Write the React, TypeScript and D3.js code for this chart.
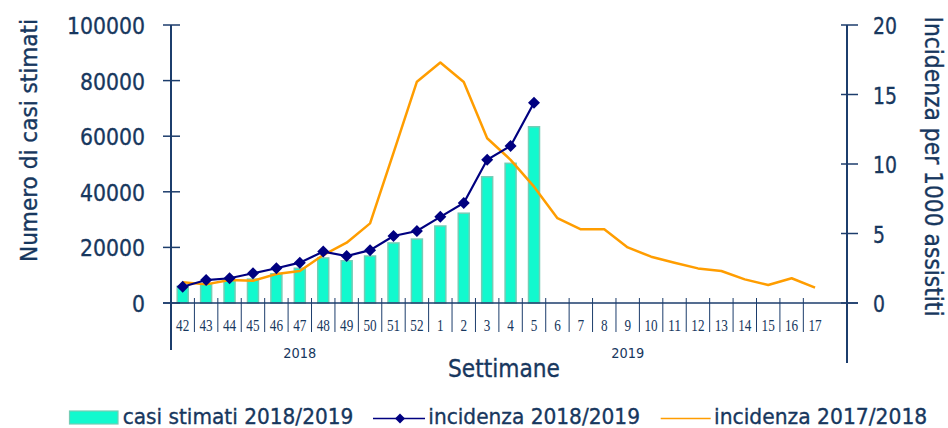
import React from "react";
import * as d3 from "d3";

const weeks = ["42","43","44","45","46","47","48","49","50","51","52","1","2","3","4","5","6","7","8","9","10","11","12","13","14","15","16","17"];
const casiStimati = [6000, 7000, 8300, 8600, 10500, 12500, 16200, 15200, 16900, 21600, 23000, 27700, 32300, 45400, 50250, 63400];
const incidenza1819 = [1.17, 1.65, 1.78, 2.14, 2.5, 2.9, 3.7, 3.38, 3.8, 4.82, 5.18, 6.2, 7.2, 10.3, 11.3, 14.4];
const incidenza1718 = [1.49, 1.34, 1.65, 1.6, 2.09, 2.3, 3.45, 4.34, 5.73, 10.8, 15.92, 17.3, 15.9, 11.85, 10.3, 8.37, 6.1, 5.3, 5.3, 4.0, 3.33, 2.9, 2.49, 2.3, 1.7, 1.29, 1.78, 1.1];
const leftTicks = [0, 20000, 40000, 60000, 80000, 100000];
const rightTicks = [0, 5, 10, 15, 20];
const years = [{ label: "2018", from: "42", to: "52" }, { label: "2019", from: "1", to: "17" }];

const NAVY = "#17375e";
const AXIS = "#1c3d6c";
const FONT = "DejaVu Sans, Verdana, sans-serif";
const TS = { stroke: NAVY, strokeWidth: 0.35 };

export default function App() {
  const x0 = 171;
  const step = 23.42;
  const x = d3.scaleBand<string>().domain(weeks).range([x0, x0 + step * weeks.length]).paddingInner(0).paddingOuter(0);
  const yL = d3.scaleLinear().domain([0, 100000]).range([303, 25]);
  const yR = d3.scaleLinear().domain([0, 20]).range([303, 25]);
  const cx = (i: number) => (x(weeks[i]) as number) + x.bandwidth() / 2;
  const line = d3.line<number>().x((_, i) => cx(i)).y((d) => yR(d));
  const barW = 11;
  const diamond = (px: number, py: number, r: number) => `M${px},${py - r}L${px + r},${py}L${px},${py + r}L${px - r},${py}Z`;

  return (
    <svg width={948} height={428} style={{ position: "absolute", left: 0, top: 0, background: "#fff" }}>
      {casiStimati.map((v, i) => (
        <rect key={"b" + i} x={cx(i) - barW / 2} y={yL(v)} width={barW} height={yL(0) - yL(v)}
          fill="#12f9ce" stroke="#74cdb5" strokeWidth={1.5} />
      ))}
      <path d={line(incidenza1718) || ""} fill="none" stroke="#ff9d00" strokeWidth={2.5} strokeLinejoin="round" />
      <path d={line(incidenza1819) || ""} fill="none" stroke="#000080" strokeWidth={2.2} />
      {incidenza1819.map((v, i) => (
        <path key={"d" + i} d={diamond(cx(i), yR(v), 6)} fill="#000080" />
      ))}

      <line x1={x0} x2={x0} y1={25} y2={350} stroke={AXIS} strokeWidth={2} />
      {leftTicks.map((t) => (
        <g key={"lt" + t}>
          <line x1={163} x2={180} y1={yL(t)} y2={yL(t)} stroke={AXIS} strokeWidth={1.5} />
          <text x={145} y={yL(t) + 9} textAnchor="end" fontFamily={FONT} fontSize={23} fill={NAVY} {...TS}
            textLength={13 * String(t).length} lengthAdjust="spacingAndGlyphs">{t}</text>
        </g>
      ))}
      <line x1={847} x2={847} y1={25} y2={363} stroke={AXIS} strokeWidth={2} />
      {rightTicks.map((t) => (
        <g key={"rt" + t}>
          <line x1={841} x2={858} y1={yR(t)} y2={yR(t)} stroke={AXIS} strokeWidth={1.5} />
          <text x={873} y={yR(t) + 9} textAnchor="start" fontFamily={FONT} fontSize={23} fill={NAVY} {...TS}
            textLength={12 * String(t).length} lengthAdjust="spacingAndGlyphs">{t}</text>
        </g>
      ))}
      <line x1={163} x2={858} y1={303} y2={303} stroke={AXIS} strokeWidth={1.5} />
      {weeks.map((w, i) =>
        i > 0 ? (
          <line key={"s" + w} x1={x(w) as number} x2={x(w) as number} y1={298} y2={332} stroke={AXIS} strokeWidth={1} />
        ) : null
      )}
      {weeks.map((w, i) => (
        <text key={"wl" + w} x={cx(i)} y={330.5} textAnchor="middle" fontFamily="Liberation Serif, serif" fontSize={16.5}
          fill={NAVY} textLength={6.6 * w.length} lengthAdjust="spacingAndGlyphs">{w}</text>
      ))}
      {years.map((yr) => {
        const a = x(yr.from) as number;
        const b = (x(yr.to) as number) + x.bandwidth();
        return (
          <text key={yr.label} x={(a + b) / 2} y={358} textAnchor="middle" fontFamily={FONT} fontSize={13.5} fill={NAVY}
            textLength={33} lengthAdjust="spacingAndGlyphs">{yr.label}</text>
        );
      })}
      <text x={504} y={377} textAnchor="middle" fontFamily={FONT} fontSize={24.5} fill={NAVY} {...TS}
        textLength={112} lengthAdjust="spacingAndGlyphs">Settimane</text>

      <text transform="translate(37,140.5) rotate(-90)" textAnchor="middle" fontFamily={FONT} fontSize={23} fill={NAVY} {...TS}
        textLength={243} lengthAdjust="spacingAndGlyphs">Numero di casi stimati</text>
      <text transform="translate(925,166.5) rotate(90)" textAnchor="middle" fontFamily={FONT} fontSize={24} fill={NAVY} {...TS}
        textLength={300} lengthAdjust="spacingAndGlyphs">Incidenza per 1000 assistiti</text>

      <rect x={69.5} y={411} width={48.5} height={13} fill="#12f9ce" stroke="#74cdb5" strokeWidth={1.2} />
      <text x={122.7} y={424} fontFamily={FONT} fontSize={21} fill={NAVY} {...TS}
        textLength={230.6} lengthAdjust="spacingAndGlyphs">casi stimati 2018/2019</text>
      <line x1={373} x2={425} y1={418.5} y2={418.5} stroke="#000080" strokeWidth={1.6} />
      <path d={diamond(400, 418.5, 5)} fill="#000080" />
      <text x={428.3} y={424} fontFamily={FONT} fontSize={21} fill={NAVY} {...TS}
        textLength={211.7} lengthAdjust="spacingAndGlyphs">incidenza 2018/2019</text>
      <line x1={660.7} x2={710.7} y1={418.5} y2={418.5} stroke="#ff9d00" strokeWidth={1.6} />
      <text x={714} y={424} fontFamily={FONT} fontSize={21} fill={NAVY} {...TS}
        textLength={213.3} lengthAdjust="spacingAndGlyphs">incidenza 2017/2018</text>
    </svg>
  );
}
